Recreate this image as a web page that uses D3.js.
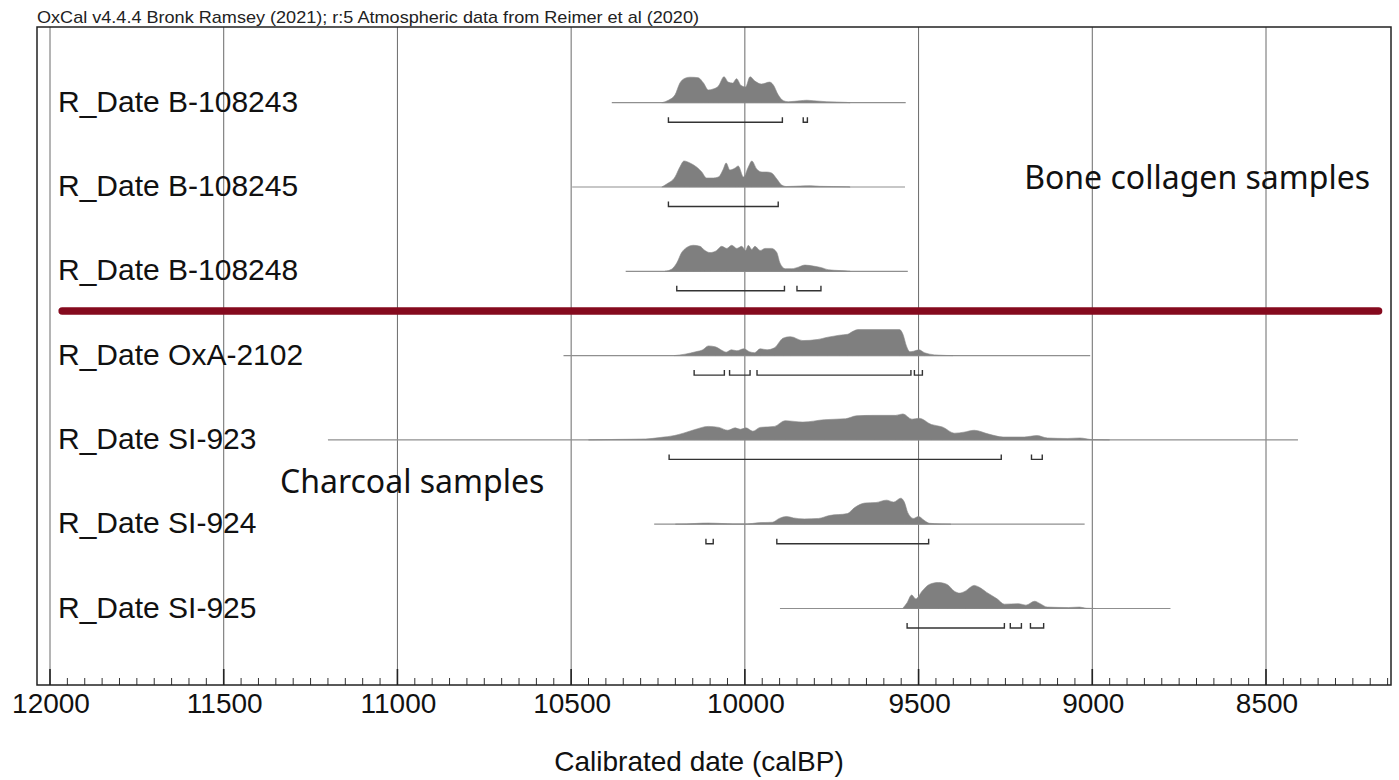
<!DOCTYPE html>
<html>
<head>
<meta charset="utf-8">
<script src="https://cdn.jsdelivr.net/npm/d3@7"></script>
<style>
  body { margin: 0; background: #fff; }
  svg { display: block; }
</style>
</head>
<body>
<div id="chart"></div>
<script>
// sample names, in plot order (top to bottom)
const labels = [
  'R_Date B-108243', 'R_Date B-108245', 'R_Date B-108248',
  'R_Date OxA-2102', 'R_Date SI-923', 'R_Date SI-924', 'R_Date SI-925'
];

// extent of the thin baseline drawn for each sample (calBP)
const spans = [
  [10383, 9537], [10497, 9539], [10343, 9531],
  [10522, 9006], [11200, 8408], [10261, 9022], [9899, 8775]
];

// probability densities: [calBP, relative height]
const densB108243 = [[10239,0],[10220,2.5],[10201,8],[10187,20],[10172,25],[10158,26],[10134,25.5],[10119,20],[10105,13],[10091,14],[10076,17],[10060,26.5],[10048,21],[10035,20],[10024,24.5],[10011,17.5],[9998,16],[9985,26.5],[9971,22],[9952,19],[9929,21],[9918,18],[9904,8],[9889,2],[9875,1],[9841,2],[9822,2.5],[9803,2],[9764,1],[9707,0.3],[9697,0]];
const densB108245 = [[10239,0],[10225,3],[10201,10],[10187,20],[10175,26],[10158,24],[10139,20],[10124,15],[10110,9],[10091,9],[10076,10],[10062,18],[10054,24],[10043,17],[10028,19],[10019,21],[10004,10],[9990,20],[9980,26],[9966,18],[9951,15],[9937,15],[9923,14],[9908,8],[9894,2],[9880,0.5],[9841,1],[9812,1.3],[9784,0.7],[9707,0.2],[9697,0]];
const densB108248 = [[10230,0],[10211,2],[10196,8],[10182,18],[10167,23],[10148,25],[10129,24],[10115,20],[10100,18],[10081,20],[10067,24],[10052,22],[10038,25],[10023,22],[10009,24],[9998,20],[9990,25],[9980,21],[9971,24],[9956,20],[9942,22],[9923,22],[9908,18],[9899,8],[9884,2.5],[9865,2.5],[9846,4],[9827,6],[9803,5],[9779,3.5],[9760,1.5],[9726,0.7],[9697,0]];
const densOxA2102 = [[10203,0],[10172,1.5],[10141,4],[10121,6],[10105,10],[10085,9],[10064,5],[10054,3.5],[10039,6],[10023,5],[10003,7],[9987,4],[9972,3],[9956,7],[9936,6],[9915,8],[9890,18],[9869,19.5],[9833,15.5],[9792,16.5],[9761,19],[9728,21],[9704,22],[9689,25],[9674,26.8],[9555,26.8],[9545,22],[9535,10],[9525,4],[9514,4.5],[9499,6],[9483,3],[9468,1.5],[9442,0.5],[9401,0]];
const densSI923 = [[10450,0],[10368,0.5],[10285,1],[10244,2.5],[10203,4.5],[10177,7],[10146,10.5],[10105,14],[10075,13],[10049,10],[10028,12.5],[10013,11],[9997,12.5],[9977,9],[9956,13],[9915,14],[9884,20],[9833,18.5],[9771,21],[9710,22],[9679,25],[9627,25.5],[9566,25.5],[9545,27],[9519,21.5],[9499,22.5],[9463,16],[9432,13.5],[9396,7],[9370,8],[9340,10],[9298,6],[9257,3],[9196,3],[9160,4.5],[9129,2],[9072,1.5],[9036,2],[9000,0.3],[8950,0]];
const densSI924 = [[10200,0],[10168,0.2],[10140,0.8],[10106,1.2],[10065,0.7],[10034,0.3],[9993,0.3],[9962,1.5],[9921,2],[9901,6],[9880,8],[9860,6.5],[9829,5.5],[9788,6],[9757,9],[9705,11],[9685,17],[9654,22],[9623,22.5],[9592,25],[9572,23],[9551,27],[9541,23],[9531,12],[9515,6],[9500,8],[9484,4],[9469,1],[9438,0.3],[9407,0]];
const densSI925 = [[9546,0],[9533,6],[9520,14],[9508,10],[9490,18],[9469,25],[9443,27],[9418,25],[9397,18],[9382,16],[9366,18],[9340,24],[9325,22],[9305,17],[9274,10],[9253,4.5],[9212,5],[9191,3.5],[9166,7.5],[9150,5],[9130,1.5],[9068,1],[9037,1.5],[9017,0.3],[8990,0]];
const densities = [densB108243, densB108245, densB108248, densOxA2102, densSI923, densSI924, densSI925];

// 95.4% highest probability ranges (brackets under each density)
const ranges = [
  [[10220, 9892], [9832, 9820]],
  [[10220, 9904]],
  [[10196, 9886], [9850, 9781]],
  [[10146, 10059], [10044, 9985], [9965, 9522], [9512, 9489]],
  [[10218, 9262], [9175, 9144]],
  [[10112, 10091], [9908, 9471]],
  [[9533, 9253], [9236, 9204], [9178, 9140]]
];

const majorTicks = [12000, 11500, 11000, 10500, 10000, 9500, 9000, 8500];
const minorTicks = d3.range(12000, 8149, -50);

const header = 'OxCal v4.4.4 Bronk Ramsey (2021); r:5 Atmospheric data from Reimer et al (2020)';
const axisTitle = 'Calibrated date (calBP)';
const groupNotes = [
  {text: 'Bone collagen samples', date: 9196, row: 1.024},
  {text: 'Charcoal samples', date: 11338, row: 4.63}
];

// ---- layout
const W = 1399, H = 780;
const frame = {left: 37, right: 1391, top: 27, bottom: 685};
const peakH = 26; // pixel height of each density's maximum

const x = d3.scaleLinear().domain([12000, 8500]).range([50, 1266]);
const rowY = d3.scaleLinear().domain([0, 6]).range([102.7, 608.5]);

const svg = d3.select('#chart').append('svg')
  .attr('width', W).attr('height', H)
  .style('font-family', '"Liberation Sans", Arial, sans-serif');

// header
svg.append('text')
  .attr('x', frame.left).attr('y', 23)
  .attr('font-size', 17)
  .attr('textLength', 662).attr('lengthAdjust', 'spacingAndGlyphs')
  .attr('fill', '#222')
  .text(header);

// grid lines at the major ticks
svg.append('g').selectAll('line').data(majorTicks).join('line')
  .attr('x1', d => x(d)).attr('x2', d => x(d))
  .attr('y1', frame.top).attr('y2', frame.bottom)
  .attr('stroke', '#6a6a6a').attr('stroke-width', 1);

// axis ticks
const axisG = svg.append('g');
axisG.selectAll('line.minor').data(minorTicks.filter(d => d % 500 !== 0)).join('line')
  .attr('class', 'minor')
  .attr('x1', d => x(d)).attr('x2', d => x(d))
  .attr('y1', frame.bottom - 7).attr('y2', frame.bottom)
  .attr('stroke', '#333').attr('stroke-width', 1);
axisG.selectAll('line.major').data(majorTicks).join('line')
  .attr('class', 'major')
  .attr('x1', d => x(d)).attr('x2', d => x(d))
  .attr('y1', frame.bottom - 16).attr('y2', frame.bottom)
  .attr('stroke', '#222').attr('stroke-width', 1.6);
axisG.selectAll('text').data(majorTicks).join('text')
  .attr('x', d => x(d) + 1).attr('y', 712.5)
  .attr('text-anchor', 'middle').attr('font-size', 28).attr('fill', '#111')
  .text(d => d);

svg.append('text')
  .attr('x', 699).attr('y', 771)
  .attr('text-anchor', 'middle').attr('font-size', 28).attr('fill', '#111')
  .text(axisTitle);

// frame
svg.append('rect')
  .attr('x', frame.left).attr('y', frame.top)
  .attr('width', frame.right - frame.left).attr('height', frame.bottom - frame.top)
  .attr('fill', 'none').attr('stroke', '#222').attr('stroke-width', 1.5);

// one row per sample
const rows = svg.append('g').selectAll('g').data(labels).join('g')
  .attr('transform', (d, i) => `translate(0,${rowY(i)})`);

rows.append('line')
  .attr('x1', (d, i) => x(spans[i][0])).attr('x2', (d, i) => x(spans[i][1]))
  .attr('stroke', '#8f8f8f').attr('stroke-width', 1.2);

rows.append('path')
  .attr('d', (d, i) => {
    const dens = densities[i];
    const h = d3.scaleLinear().domain([0, d3.max(dens, p => p[1])]).range([0, -peakH]);
    return d3.area()
      .x(p => x(p[0]))
      .y0(0).y1(p => h(p[1]))
      .curve(d3.curveMonotoneX)(dens);
  })
  .attr('fill', '#7f7f7f').attr('stroke', '#8a8a8a').attr('stroke-width', 0.6);

rows.each(function(d, i) {
  d3.select(this).selectAll('path.hpd').data(ranges[i]).join('path')
    .attr('class', 'hpd')
    .attr('d', r => `M${x(r[0])},14.5V19.5H${x(r[1])}V14.5`)
    .attr('fill', 'none').attr('stroke', '#333').attr('stroke-width', 1.4);
});

rows.append('text')
  .attr('x', 58).attr('y', 9)
  .attr('font-size', 30).attr('fill', '#111')
  .text(d => d);

// separator between bone collagen and charcoal samples
svg.append('line')
  .attr('x1', x(11965)).attr('x2', x(8176))
  .attr('y1', 311).attr('y2', 311)
  .attr('stroke', '#850a1e').attr('stroke-width', 7.5)
  .attr('stroke-linecap', 'round');

// group annotations
svg.append('g').selectAll('text').data(groupNotes).join('text')
  .attr('x', d => x(d.date)).attr('y', d => rowY(d.row))
  .attr('font-family', '"Noto Sans", "Open Sans", sans-serif')
  .attr('font-size', 32).attr('fill', '#111')
  .text(d => d.text);
</script>
</body>
</html>
